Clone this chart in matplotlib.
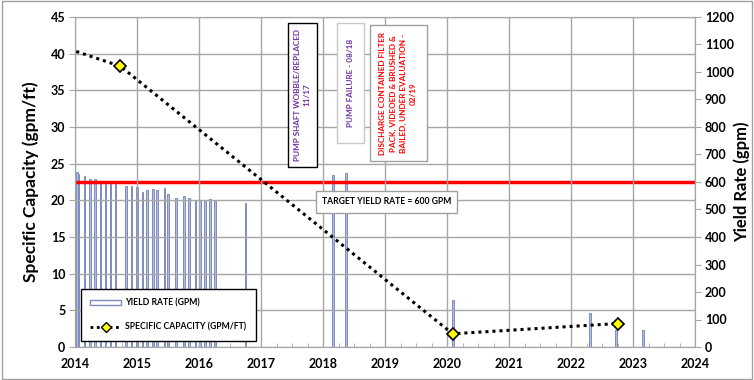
import matplotlib
matplotlib.use("Agg")
import matplotlib.pyplot as plt
from matplotlib.patches import Rectangle, Patch
from matplotlib.lines import Line2D
import numpy as np

plt.rcParams['font.family'] = ['Lato', 'DejaVu Sans']

# ---- data ----
yield_dates = [2014.03, 2014.06, 2014.15, 2014.24, 2014.32, 2014.41, 2014.49, 2014.57, 2014.65,
               2014.82, 2014.91, 2015.00, 2015.09, 2015.16, 2015.26, 2015.32, 2015.44, 2015.50,
               2015.63, 2015.76, 2015.84, 2015.94, 2016.02, 2016.10, 2016.18, 2016.26, 2016.75,
               2018.16, 2018.37, 2020.10, 2022.31, 2022.73, 2023.16]
yield_gpm = [635, 630, 623, 611, 611, 601, 592, 592, 592,
             587, 587, 583, 565, 572, 575, 571, 578, 555,
             542, 548, 540, 535, 532, 536, 538, 532, 525,
             625, 632, 171, 122, 62, 62]

sc_dates = [2014.02, 2014.73, 2020.09, 2022.75]
sc_values = [40.3, 38.3, 1.8, 3.2]

target_gpm = 600
year_ticks = list(range(2014, 2025))
left_ticks = list(range(0, 46, 5))
right_ticks = list(range(0, 1201, 100))

# ---- figure ----
fig = plt.figure(figsize=(7.54, 3.80), dpi=100)
ax1 = fig.add_axes([75/754, 33/380, 620/754, 330/380])
ax2 = ax1.twinx()
ax1.set_zorder(ax2.get_zorder() + 1)
ax1.patch.set_visible(False)

gridc = '#A6A6A6'
ax1.set_xlim(2014, 2024)
ax1.set_ylim(0, 45)
ax2.set_ylim(0, 1200)
ax1.set_xticks(year_ticks)
ax1.set_xticks(np.arange(2014, 2024.01, 0.25), minor=True)
ax1.set_yticks(left_ticks)
ax2.set_yticks(right_ticks)
ax1.grid(True, which='major', color=gridc, lw=1.0)
ax1.set_axisbelow(True)

for ax in (ax1, ax2):
    for s in ax.spines.values():
        s.set_color(gridc)
ax1.tick_params(axis='x', which='major', length=0, pad=8, labelsize=9)
ax1.tick_params(axis='x', which='minor', direction='in', length=3, color=gridc)
ax1.tick_params(axis='y', length=4, color=gridc, labelsize=9, pad=3)
ax2.tick_params(axis='y', length=4, color=gridc, labelsize=9, pad=3)
for lab in ax1.get_xticklabels() + ax1.get_yticklabels() + ax2.get_yticklabels():
    lab.set_fontweight('bold')

# bars (yield rate)
ax2.bar(yield_dates, yield_gpm, width=0.025, facecolor='#B4BCE0', edgecolor='#7F8CC0',
        lw=0.7, zorder=2)
# target line
ax2.axhline(target_gpm, color='#FF0000', lw=2.5, zorder=3)

# specific capacity
ax1.plot(sc_dates, sc_values, color='black', lw=2.2, linestyle=(0, (1, 1.3)),
         marker='D', markersize=6.5, markerfacecolor='#FFFF00', markeredgecolor='black',
         markeredgewidth=1.2, markevery=[1, 2, 3], zorder=4)

ax1.set_ylabel('Specific Capacity (gpm/ft)', fontsize=12.5, fontweight='bold')
ax1.yaxis.set_label_coords(-0.058, 0.5)
ax2.set_ylabel('Yield Rate (gpm)', fontsize=12, fontweight='bold')
ax2.yaxis.set_label_coords(1.062, 0.5)

purple = '#7030A0'
afs = 5.9
# annotation boxes
ax1.add_patch(Rectangle((2017.44, 24.6), 0.46, 19.6, facecolor='white', edgecolor='black', lw=1.0, zorder=5))
ax1.text(2017.67, 34.4, 'PUMP SHAFT WOBBLE/REPLACED\n11/17', rotation=90, ha='center', va='center',
         color=purple, fontsize=afs, fontweight='bold', linespacing=1.45, zorder=6)

ax1.add_patch(Rectangle((2018.22, 27.8), 0.44, 16.4, facecolor='white', edgecolor='#C8C8C8', lw=1.0, zorder=5))
ax1.text(2018.44, 36.0, 'PUMP FAILURE - 08/18', rotation=90, ha='center', va='center',
         color=purple, fontsize=afs, fontweight='bold', zorder=6)

ax1.add_patch(Rectangle((2018.75, 25.3), 0.92, 18.6, facecolor='white', edgecolor='#A0A0A0', lw=1.0, zorder=5))
ax1.text(2019.21, 34.6, 'DISCHARGE CONTAINED FILTER\nPACK, VIDEOED & BRUSHED &\nBAILED, UNDER EVALUATION -\n02/19',
         rotation=90, ha='center', va='center', color='#FF0000', fontsize=afs, fontweight='bold',
         linespacing=1.5, multialignment='center', zorder=6)

ax1.add_patch(Rectangle((2017.89, 18.3), 2.27, 3.0, facecolor='white', edgecolor='#A0A0A0', lw=1.0, zorder=5))
ax1.text(2019.025, 19.8, 'TARGET YIELD RATE = 600 GPM', ha='center', va='center',
         color='black', fontsize=6.2, fontweight='bold', zorder=6)

# legend
handles = [Patch(facecolor='white', edgecolor='#7F8CC0', lw=1.0),
           Line2D([], [], color='black', lw=2.0, linestyle=(0, (1, 1.3)), marker='D', markersize=5,
                  markerfacecolor='#FFFF00', markeredgecolor='black')]
leg = ax1.legend(handles, ['YIELD RATE (GPM)', 'SPECIFIC CAPACITY (GPM/FT)'],
                 loc='lower left', bbox_to_anchor=(0.0097, 0.018), borderaxespad=0,
                 prop={'size': 6.2, 'weight': 'bold'}, handlelength=3.6, handleheight=0.5,
                 labelspacing=1.7, borderpad=1.1, handletextpad=0.4, fancybox=False,
                 framealpha=1, edgecolor='black')
leg.get_frame().set_linewidth(1.0)
leg.set_zorder(10)

fig.add_artist(Rectangle((0.002, 0.003), 0.996, 0.994, transform=fig.transFigure,
                         fill=False, edgecolor='#A0A0A0', lw=1.0))

fig.savefig('out.png', dpi=100)
